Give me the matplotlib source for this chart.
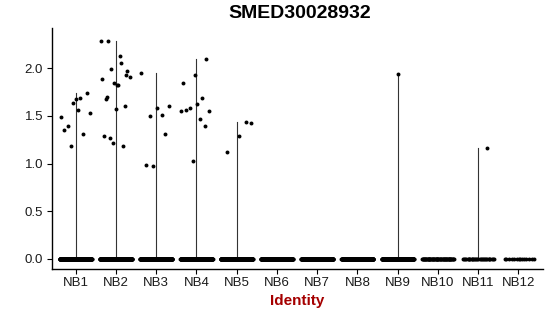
import numpy as np
import matplotlib
matplotlib.use("Agg")
import matplotlib.pyplot as plt

plt.rcParams['font.family'] = ['Liberation Sans', 'DejaVu Sans']

title = "SMED30028932"
categories = ["NB1", "NB2", "NB3", "NB4", "NB5", "NB6", "NB7", "NB8", "NB9", "NB10", "NB11", "NB12"]
yticks = [0.0, 0.5, 1.0, 1.5, 2.0]

# nonzero expression values per identity
nonzero = {
    "NB1": [1.64, 1.49, 1.69, 1.40, 1.74, 1.68, 1.35, 1.31, 1.18, 1.53, 1.56],
    "NB2": [1.83, 1.68, 1.60, 1.22, 2.29, 2.13, 2.29, 1.97, 1.57, 1.29, 1.19,
            1.99, 1.91, 1.83, 1.70, 1.93, 1.85, 1.89, 2.06, 1.27],
    "NB3": [1.51, 1.50, 1.61, 1.58, 0.99, 1.31, 0.98, 1.95],
    "NB4": [2.10, 1.93, 1.85, 1.69, 1.58, 1.55, 1.63, 1.56, 1.40, 1.03, 1.55, 1.47],
    "NB5": [1.43, 1.29, 1.12, 1.44],
    "NB6": [], "NB7": [], "NB8": [],
    "NB9": [1.94],
    "NB10": [],
    "NB11": [1.16],
    "NB12": [],
}
# number of cells with zero expression per identity
zero_counts = [300, 300, 300, 300, 300, 220, 220, 220, 220, 60, 30, 14]

fig = plt.figure(figsize=(5.5, 3.16), dpi=100)
ax = fig.add_axes([51.5/550, 1-268.5/316, (542.6-51.5)/550, (268.5-28.3)/316])

def jitter(n, k):
    # deterministic low-discrepancy spread within +-0.4 of the category
    phi = 0.6180339887
    return ((np.arange(n) * phi + 0.137 * k) % 1.0 - 0.5) * 0.8

for k, cat in enumerate(categories):
    xc = k + 1
    vals = np.array(nonzero[cat])
    nz = zero_counts[k]
    if len(vals):
        ax.plot([xc, xc], [0, vals.max()], color="#333333", lw=0.8, zorder=1)
    # zero points
    xz = xc + jitter(nz, k)
    ax.scatter(xz, np.zeros(nz), s=8, color="black", linewidths=0, zorder=2)
    if len(vals):
        xv = xc + jitter(len(vals), k + 3) * 0.95
        ax.scatter(xv, vals, s=8, color="black", linewidths=0, zorder=3)

ax.set_xlim(0.4, 12.6)
ax.set_ylim(-0.1, 2.42)
ax.set_xticks(range(1, len(categories) + 1))
ax.set_xticklabels(categories)
ax.set_yticks(yticks)
ax.set_yticklabels([f"{v:.1f}" for v in yticks])
for s in ["top", "right"]:
    ax.spines[s].set_visible(False)
for s in ["left", "bottom"]:
    ax.spines[s].set_linewidth(1.0)
    ax.spines[s].set_color("black")
ax.tick_params(axis="both", length=3.5, width=0.8, color="black", labelsize=9.5, labelcolor="#1a1a1a", pad=2.5)
ax.set_xlabel("Identity", fontsize=11, fontweight="bold", color="#a50000", labelpad=4)
fig.text(300/550, 1-18.5/316, title, ha="center", va="baseline", fontsize=14, fontweight="bold")

fig.savefig("out.png", dpi=100)
